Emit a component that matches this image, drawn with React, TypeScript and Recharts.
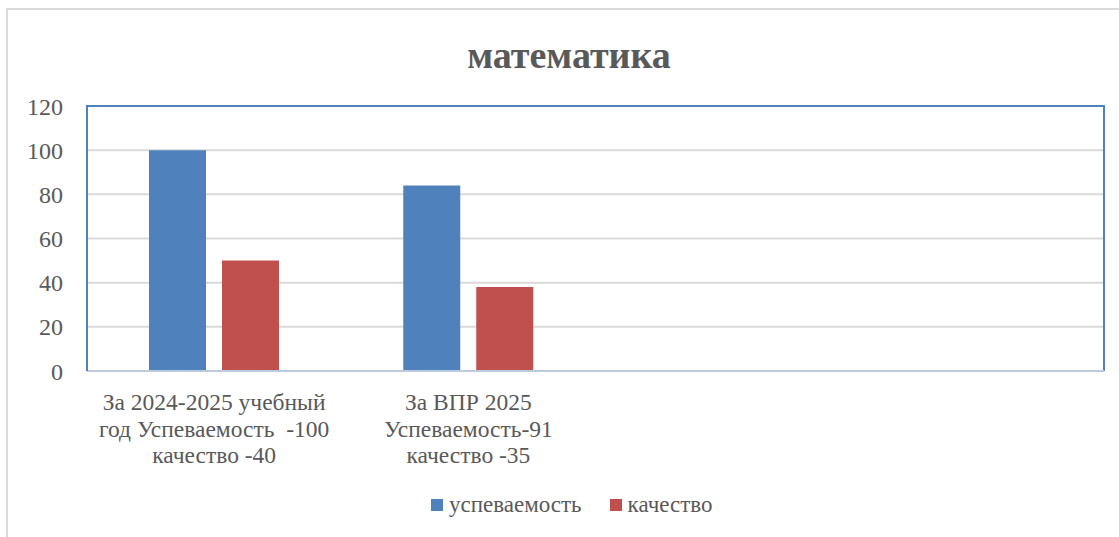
import React from 'react';
import * as R from 'recharts';
import { BarChart, Bar, XAxis, YAxis, CartesianGrid, Legend } from 'recharts';

const categories = [
  'За 2024-2025 учебный\nгод Успеваемость  -100\nкачество -40',
  'За ВПР 2025\nУспеваемость-91\nкачество -35',
  '',
  '',
];
const uspevaemost = [100, 84, null, null];
const kachestvo = [50, 38, null, null];
const yTicks = [0, 20, 40, 60, 80, 100, 120];
const seriesNames = ['успеваемость', 'качество'];
const seriesColors = ['#4F81BD', '#C0504D'];

const data = categories.map((c, i) => ({ cat: c, a: uspevaemost[i], b: kachestvo[i] }));

const FONT = '"Liberation Serif", "Times New Roman", serif';
const TXT = '#595959';

const CatTick = (props: any) => {
  const { x, y, payload } = props;
  const lines = String(payload.value || '').split('\n');
  return (
    <text x={x} y={y} textAnchor="middle" fill={TXT} fontFamily={FONT} fontSize={23.5}>
      {lines.map((l: string, i: number) => (
        <tspan key={i} x={x} dy={i === 0 ? 15 : 26.5} style={{ whiteSpace: 'pre' }}>
          {l}
        </tspan>
      ))}
    </text>
  );
};

const PlotBorder = () => {
  const area: any = (R as any).usePlotArea ? (R as any).usePlotArea() : null;
  if (!area) return null;
  const { x, y, width, height } = area;
  return (
    <path
      d={`M${x},${y + height} L${x},${y} L${x + width},${y} L${x + width},${y + height}`}
      fill="none"
      stroke="#4F81BD"
      strokeWidth={2}
    />
  );
};

const LegendContent = () => (
  <div style={{ display: 'flex', alignItems: 'center', fontFamily: FONT, fontSize: 23, color: TXT }}>
    {seriesNames.map((n, i) => (
      <div key={n} style={{ display: 'flex', alignItems: 'center', marginRight: 28 }}>
        <span style={{ display: 'inline-block', width: 12, height: 12, background: seriesColors[i], marginRight: 6 }} />
        <span>{n}</span>
      </div>
    ))}
  </div>
);

export default function App() {
  return (
    <div style={{ position: 'absolute', left: 0, top: 0, width: 1119, height: 537, overflow: 'hidden', background: '#fff' }}>
      <div style={{ position: 'absolute', left: 6, top: 8, width: 1200, height: 600, border: '2px solid #d9d9d9' }} />
      <div
        style={{
          position: 'absolute',
          left: 369,
          width: 400,
          top: 30,
          textAlign: 'center',
          fontFamily: FONT,
          fontWeight: 'bold',
          fontSize: 38,
          color: TXT,
          lineHeight: '50px',
        }}
      >
        математика
      </div>
      <div style={{ position: 'absolute', left: 0, top: 0 }}>
        <BarChart
          width={1119}
          height={537}
          data={data}
          margin={{ top: 106, left: 27, right: 15, bottom: 46 }}
          barCategoryGap={62}
          barGap={16}
        >
          <CartesianGrid vertical={false} stroke="#d9d9d9" strokeWidth={2} />
          <XAxis
            dataKey="cat"
            interval={0}
            tickLine={false}
            axisLine={{ stroke: '#bccbe0', strokeWidth: 2 }}
            height={120}
            tick={<CatTick />}
            tickMargin={18}
          />
          <YAxis
            domain={[0, 120]}
            ticks={yTicks}
            width={60}
            tickLine={false}
            tickSize={0}
            tickMargin={24}
            axisLine={{ stroke: '#4F81BD', strokeWidth: 2 }}
            tick={{ fill: TXT, fontFamily: FONT, fontSize: 24 }}
          />
          <Legend
            verticalAlign="middle"
            align="center"
            layout="horizontal"
            content={<LegendContent />}
            wrapperStyle={{ top: 492, left: 431, width: 400, height: 30 }}
          />
          <Bar dataKey="a" name={seriesNames[0]} fill={seriesColors[0]} isAnimationActive={false} />
          <Bar dataKey="b" name={seriesNames[1]} fill={seriesColors[1]} isAnimationActive={false} />
          <PlotBorder />
        </BarChart>
      </div>
    </div>
  );
}
